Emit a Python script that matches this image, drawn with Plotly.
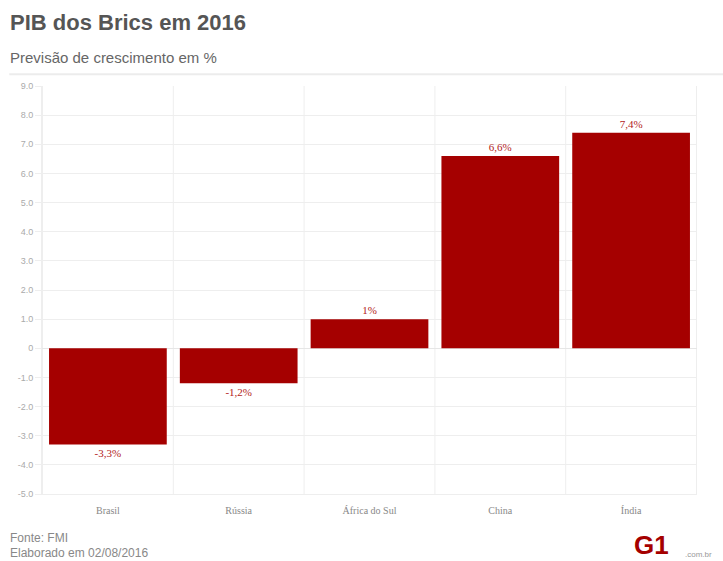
import plotly.graph_objects as go

# Dados: previsão de crescimento do PIB em 2016 (%), fonte FMI
paises = ["Brasil", "Rússia", "África do Sul", "China", "Índia"]
crescimento = [-3.3, -1.2, 1.0, 6.6, 7.4]
rotulos = ["-3,3%", "-1,2%", "1%", "6,6%", "7,4%"]

y_ticks = [9, 8, 7, 6, 5, 4, 3, 2, 1, 0, -1, -2, -3, -4, -5]
y_tick_text = ["9.0", "8.0", "7.0", "6.0", "5.0", "4.0", "3.0", "2.0", "1.0", "0",
               "-1.0", "-2.0", "-3.0", "-4.0", "-5.0"]

vermelho = "#a50000"

fig = go.Figure(
    go.Bar(
        x=paises,
        y=crescimento,
        text=rotulos,
        textposition="outside",
        cliponaxis=False,
        textfont=dict(family="Liberation Serif, Times New Roman, serif", size=11, color="#b22222"),
        marker=dict(color=vermelho, line=dict(width=0)),
        hoverinfo="x+y",
    )
)

fig.update_layout(
    width=723,
    height=561,
    margin=dict(l=42, r=26, t=86, b=67),
    paper_bgcolor="white",
    plot_bgcolor="white",
    bargap=0.1,
    showlegend=False,
    font=dict(family="Liberation Sans, Arial, sans-serif", color="#777"),
    xaxis=dict(
        type="category",
        showgrid=False,
        ticks="outside",
        ticklen=7,
        tickcolor="rgba(0,0,0,0)",
        tickfont=dict(family="Liberation Serif, Times New Roman, serif", size=10, color="#888"),
        showline=True,
        linecolor="#eeeeee",
        linewidth=1,
    ),
    yaxis=dict(
        range=[-5, 9],
        tickvals=y_ticks,
        ticktext=y_tick_text,
        tickfont=dict(size=9, color="#aaa"),
        showgrid=True,
        gridcolor="#eeeeee",
        gridwidth=1,
        zeroline=True,
        zerolinecolor="#e6e6e6",
        zerolinewidth=1,
        ticks="outside",
        ticklen=6,
        tickcolor="#eeeeee",
        showline=True,
        linecolor="#eeeeee",
    ),
)

# Linhas verticais separando as categorias
shapes = []
for i in range(len(paises) + 1):
    shapes.append(dict(
        type="line", xref="x", yref="paper",
        x0=i - 0.5, x1=i - 0.5, y0=0, y1=1,
        line=dict(color="#eeeeee", width=1), layer="below",
    ))
# Separador abaixo do subtítulo
shapes.append(dict(
    type="line", xref="paper", yref="paper",
    x0=-0.05, x1=1.05, y0=1.029, y1=1.029,
    line=dict(color="#ececec", width=2),
))
fig.update_layout(shapes=shapes)


def px_ann(text, x, y, size, color, bold=False,
           family="Liberation Sans, Arial, sans-serif", xanchor="left"):
    # posiciona texto em coordenadas de pixel da página
    pw = 723 - 42 - 26
    ph = 561 - 86 - 67
    return dict(
        text=f"<b>{text}</b>" if bold else text,
        x=(x - 42) / pw, y=1 - (y - 86) / ph,
        xref="paper", yref="paper",
        xanchor=xanchor, yanchor="middle",
        showarrow=False,
        font=dict(size=size, color=color, family=family),
    )


fig.update_layout(annotations=[
    px_ann("PIB dos Brics em 2016", 8, 22, 22, "#555555", bold=True),
    px_ann("Previsão de crescimento em %", 8, 57, 15, "#666666"),
    px_ann("Fonte: FMI", 8, 538, 12, "#888888"),
    px_ann("Elaborado em 02/08/2016", 8, 553, 12, "#888888"),
    px_ann("G1", 632, 545, 26, vermelho, bold=True, family="Liberation Sans, Arial, sans-serif"),
    px_ann(".com.br", 683, 554, 8, "#999999"),
])

fig.write_html("out.html")
